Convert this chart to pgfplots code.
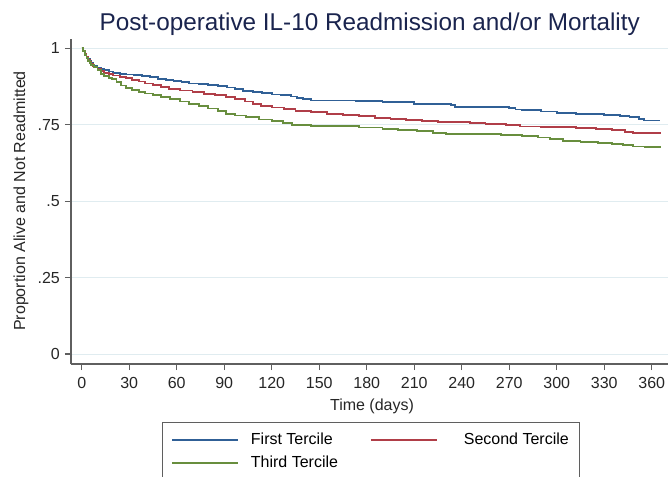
\documentclass[border=0pt]{standalone}
\usepackage{fontspec}
\setmainfont{Liberation Sans}
\usepackage{pgfplots}
\pgfplotsset{compat=1.18}
\definecolor{cBlue}{RGB}{48,96,150}
\definecolor{cRed}{RGB}{176,62,72}
\definecolor{cGreen}{RGB}{104,142,62}
\definecolor{cTitle}{RGB}{26,36,78}
\definecolor{cGrid}{RGB}{224,236,240}
\definecolor{cAxis}{RGB}{95,95,95}
\begin{document}
\begin{tikzpicture}
\useasboundingbox (0,0) rectangle (668pt,476pt);
\clip (0,0) rectangle (668pt,476pt);
\begin{axis}[
  at={(71pt,112pt)}, anchor=south west,
  scale only axis, width=599.7pt, height=324.9pt,
  xmin=-6.76, xmax=372, ymin=-0.0327, ymax=1.03,
  axis x line*=bottom, axis y line*=left,
  axis line style={-, cAxis, line width=1.1pt},
  tick style={cAxis, line width=1.1pt},
  tick align=outside, major tick length=6pt,
  xtick={0,30,...,360},
  ytick={0,0.25,0.5,0.75,1},
  yticklabels={0,.25,.5,.75,1},
  ymajorgrids, grid style={cGrid, line width=1pt},
  /pgf/number format/assume math mode=true,
  ticklabel style={font=\fontsize{16}{19}\selectfont, text=black!85},
  xticklabel style={inner sep=0pt, yshift=-6.8pt},
  yticklabel style={inner sep=0pt, xshift=-5pt},
  legend columns=2,
  legend cell align=left,
  legend image code/.code={\draw[#1] (0pt,0pt) -- (66pt,0pt);},
  legend style={at={(rel axis cs:0.1512,-0.1776)}, anchor=north west,
    draw=cAxis, line width=0.9pt, inner xsep=9pt, inner ysep=9pt,
    font=\fontsize{16}{19}\selectfont, row sep=6pt,
    /tikz/column 2/.style={column sep=30pt},
    /tikz/column 3/.style={column sep=24pt},
    /tikz/column 1/.style={column sep=10pt}},
  every axis plot/.append style={line width=1.8pt, const plot, mark=none},
]
\addplot[cBlue] coordinates {
(0,1) (1,0.99) (2,0.98) (3,0.972) (4,0.965) (5,0.958) (6,0.952) (7,0.947) (8,0.942)
(10,0.937) (12,0.932) (14,0.928) (17,0.924) (20,0.92) (24,0.917) (28,0.914) (33,0.912)
(38,0.91) (43,0.906) (48,0.9) (53,0.897) (58,0.893) (63,0.889) (68,0.885) (74,0.882)
(80,0.879) (86,0.876) (92,0.872) (97,0.866) (102,0.861) (108,0.857) (114,0.853)
(120,0.849) (126,0.846) (132,0.842) (136,0.838) (140,0.834) (145,0.829) (173,0.827)
(190,0.823) (210,0.818) (233,0.814) (236,0.808) (270,0.805) (274,0.8) (278,0.797)
(290,0.793) (300,0.789) (312,0.786) (330,0.782) (340,0.778) (346,0.775) (352,0.769)
(355,0.764) (365,0.764)};
\addlegendentry{First Tercile}
\addplot[cRed] coordinates {
(0,1) (1,0.99) (2,0.98) (3,0.971) (4,0.963) (5,0.955) (6,0.948) (7,0.942) (8,0.937)
(10,0.931) (12,0.925) (14,0.92) (17,0.915) (20,0.911) (24,0.906) (28,0.902) (32,0.897)
(36,0.891) (40,0.885) (45,0.879) (50,0.873) (55,0.868) (62,0.862) (70,0.856) (77,0.851)
(84,0.846) (91,0.84) (97,0.833) (103,0.826) (108,0.819) (113,0.812) (120,0.806)
(128,0.801) (135,0.796) (145,0.791) (155,0.786) (165,0.781) (175,0.778) (185,0.773)
(195,0.769) (205,0.766) (215,0.763) (225,0.759) (245,0.756) (255,0.752) (268,0.748)
(277,0.744) (290,0.742) (312,0.739) (325,0.736) (335,0.732) (343,0.727) (348,0.722)
(365,0.72)};
\addlegendentry{Second Tercile}
\addplot[cGreen] coordinates {
(0,1) (1,0.99) (2,0.978) (3,0.968) (4,0.959) (5,0.952) (6,0.946) (8,0.94) (10,0.93)
(12,0.915) (14,0.908) (17,0.903) (19,0.9) (22,0.89) (25,0.878) (28,0.87) (32,0.864)
(36,0.858) (40,0.852) (45,0.846) (50,0.84) (56,0.833) (62,0.826) (68,0.819) (74,0.812)
(80,0.803) (86,0.795) (91,0.786) (97,0.78) (104,0.774) (112,0.767) (120,0.761)
(127,0.755) (133,0.749) (145,0.747) (160,0.745) (175,0.741) (190,0.737) (200,0.733)
(212,0.729) (222,0.724) (230,0.72) (250,0.719) (265,0.716) (278,0.712) (288,0.708)
(296,0.702) (304,0.696) (315,0.693) (326,0.689) (335,0.686) (342,0.683) (348,0.679)
(356,0.676) (365,0.674)};
\addlegendentry{Third Tercile}
\end{axis}
\node[anchor=base, text=cTitle, font=\fontsize{24.3}{28}\selectfont] at (369.7pt,445.3pt) {Post-operative IL-10 Readmission and/or Mortality};
\node[anchor=base, font=\fontsize{16}{19}\selectfont, text=black!85] at (372pt,66pt) {Time (days)};
\node[anchor=base, rotate=90, font=\fontsize{16}{19}\selectfont, text=black!85] at (25pt,275pt) {Proportion Alive and Not Readmitted};
\end{tikzpicture}
\end{document}
